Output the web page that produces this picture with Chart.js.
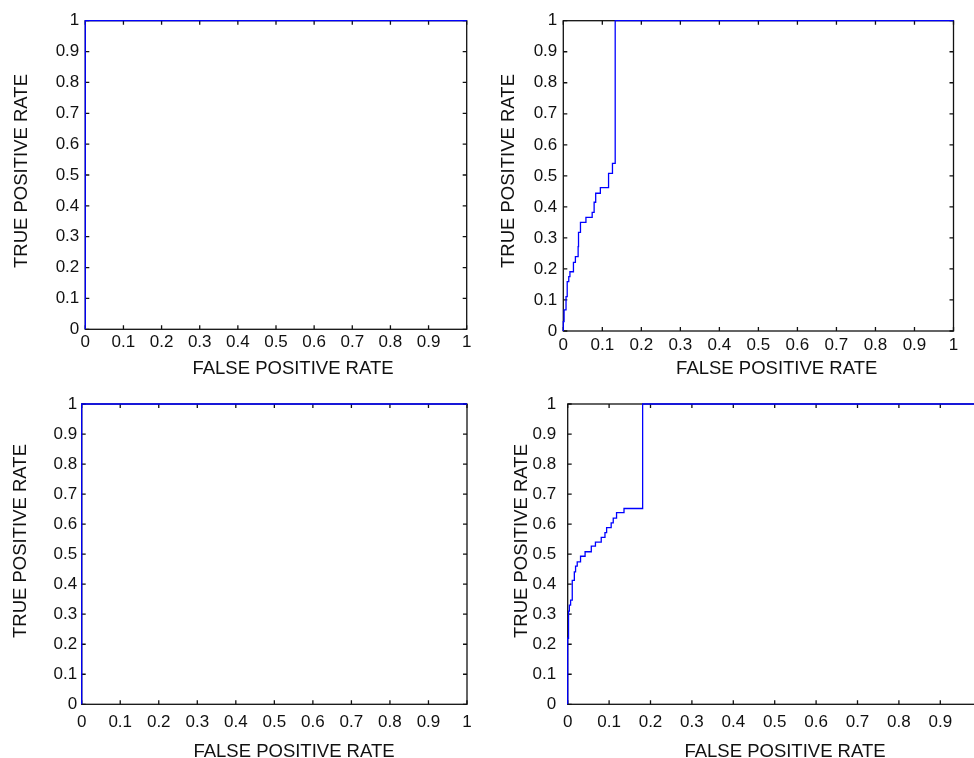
<!DOCTYPE html>
<html>
<head>
<meta charset="utf-8">
<script src="https://cdn.jsdelivr.net/npm/chart.js@4.4.0/dist/chart.umd.min.js"></script>
<style>
  html, body { margin: 0; padding: 0; background: #fff; overflow: hidden; width: 974px; height: 758px; }
  canvas { position: absolute; left: 0; top: 0; }
</style>
</head>
<body>
<canvas id="rocTL" width="1010" height="758"></canvas>
<canvas id="rocTR" width="1010" height="758"></canvas>
<canvas id="rocBL" width="1010" height="758"></canvas>
<canvas id="rocBR" width="1010" height="758"></canvas>
<script>
// ticks shared by every panel
const tickValues = [0, 0.1, 0.2, 0.3, 0.4, 0.5, 0.6, 0.7, 0.8, 0.9, 1];
const tickLabels = ['0', '0.1', '0.2', '0.3', '0.4', '0.5', '0.6', '0.7', '0.8', '0.9', '1'];

const xTitle = 'FALSE POSITIVE RATE';
const yTitle = 'TRUE POSITIVE RATE';

// top left: perfect curve
const fprTL = [0, 0, 1];
const tprTL = [0, 1, 1];

// top right: staircase, each point is the top of a riser
const fprTR = [0, 0, 0.002, 0.007, 0.010, 0.014, 0.017, 0.026, 0.031, 0.038, 0.039, 0.044, 0.058, 0.074, 0.079, 0.083, 0.095, 0.116, 0.126, 0.133, 1];
const tprTR = [0, 0.03, 0.068, 0.111, 0.159, 0.175, 0.191, 0.221, 0.240, 0.272, 0.318, 0.350, 0.366, 0.382, 0.415, 0.444, 0.462, 0.508, 0.540, 1, 1];

// bottom left: perfect curve
const fprBL = [0, 0, 1];
const tprBL = [0, 1, 1];

// bottom right
const fprBR = [0, 0, 0.002, 0.004, 0.007, 0.011, 0.016, 0.019, 0.023, 0.031, 0.042, 0.057, 0.067, 0.081, 0.090, 0.094, 0.105, 0.110, 0.118, 0.136, 0.181, 1];
const tprBR = [0, 0.22, 0.31, 0.33, 0.347, 0.413, 0.441, 0.46, 0.474, 0.493, 0.508, 0.527, 0.54, 0.556, 0.572, 0.588, 0.604, 0.62, 0.638, 0.652, 1, 1];

const W = 1010, H = 758;
const tickFont = { family: '"Liberation Sans", Arial, sans-serif', size: 17 };
const titleFont = '18.5px "Liberation Sans", Arial, sans-serif';
const ink = '#111';

const panels = [
  { id: 'rocTL', fpr: fprTL, tpr: tprTL, box: [85.3, 20.7, 466.7, 329.3], yPad: 6, xPad: 2.4, xTitleAt: [293, 374.3], yTitleAt: [26.7, 171] },
  { id: 'rocTR', fpr: fprTR, tpr: tprTR, box: [563.3, 20.7, 953.5, 331], yPad: 6, xPad: 3.9, xTitleAt: [776.7, 374.3], yTitleAt: [513.7, 171] },
  { id: 'rocBL', fpr: fprBL, tpr: tprBL, box: [81.7, 404, 467, 704.3], yPad: 4.5, xPad: 7.4, xTitleAt: [294, 756.7], yTitleAt: [26, 541] },
  { id: 'rocBR', fpr: fprBR, tpr: tprBR, box: [567.7, 404, 981.7, 704.3], yPad: 11.5, xPad: 7.4, xTitleAt: [785, 756.7], yTitleAt: [526.7, 541] }
];

// matlab-ish frame: full box, ticks pointing inwards, hand placed axis titles
const matlabBox = {
  id: 'matlabBox',
  beforeDatasetsDraw(chart) {
    const { ctx, chartArea: a, scales } = chart;
    ctx.save();
    ctx.strokeStyle = ink;
    ctx.lineWidth = 1.3;
    ctx.strokeRect(a.left, a.top, a.right - a.left, a.bottom - a.top);
    ctx.beginPath();
    scales.x.ticks.forEach(t => {
      const px = scales.x.getPixelForValue(t.value);
      ctx.moveTo(px, a.bottom); ctx.lineTo(px, a.bottom - 4);
      ctx.moveTo(px, a.top); ctx.lineTo(px, a.top + 4);
    });
    scales.y.ticks.forEach(t => {
      const py = scales.y.getPixelForValue(t.value);
      ctx.moveTo(a.left, py); ctx.lineTo(a.left + 4, py);
      ctx.moveTo(a.right, py); ctx.lineTo(a.right - 4, py);
    });
    ctx.stroke();
    ctx.restore();
  },
  afterDraw(chart, args, opts) {
    const ctx = chart.ctx;
    ctx.save();
    ctx.fillStyle = ink;
    ctx.font = titleFont;
    ctx.textAlign = 'center';
    ctx.textBaseline = 'alphabetic';
    ctx.fillText(xTitle, opts.xTitleAt[0], opts.xTitleAt[1]);
    ctx.translate(opts.yTitleAt[0], opts.yTitleAt[1]);
    ctx.rotate(-Math.PI / 2);
    ctx.fillText(yTitle, 0, 0);
    ctx.restore();
  }
};

function axisOpts(p, fitFn) {
  return {
    type: 'linear',
    min: 0,
    max: 1,
    afterBuildTicks: s => { s.ticks = tickValues.map(v => ({ value: v })); },
    afterFit: fitFn,
    grid: { display: false, drawTicks: false },
    border: { display: false },
    ticks: {
      autoSkip: false,
      maxRotation: 0,
      color: ink,
      font: tickFont,
      callback: (v, i) => tickLabels[i]
    }
  };
}

panels.forEach(p => {
  const [L, T, R, B] = p.box;
  const x = axisOpts(p, s => { s.height = H - B; });
  x.ticks.padding = p.xPad;
  const y = axisOpts(p, s => { s.width = L; });
  y.ticks.padding = p.yPad;

  new Chart(document.getElementById(p.id), {
    type: 'line',
    data: {
      datasets: [{
        data: p.fpr.map((v, i) => ({ x: v, y: p.tpr[i] })),
        borderColor: '#0000ff',
        borderWidth: 1.3,
        pointRadius: 0,
        stepped: 'before',
        fill: false,
        clip: 4
      }]
    },
    options: {
      responsive: false,
      animation: false,
      events: [],
      layout: { padding: { left: 0, top: T, right: W - R, bottom: 0 } },
      plugins: {
        legend: { display: false },
        tooltip: { enabled: false },
        matlabBox: { xTitleAt: p.xTitleAt, yTitleAt: p.yTitleAt }
      },
      scales: { x: x, y: y }
    },
    plugins: [matlabBox]
  });
});
</script>
</body>
</html>
